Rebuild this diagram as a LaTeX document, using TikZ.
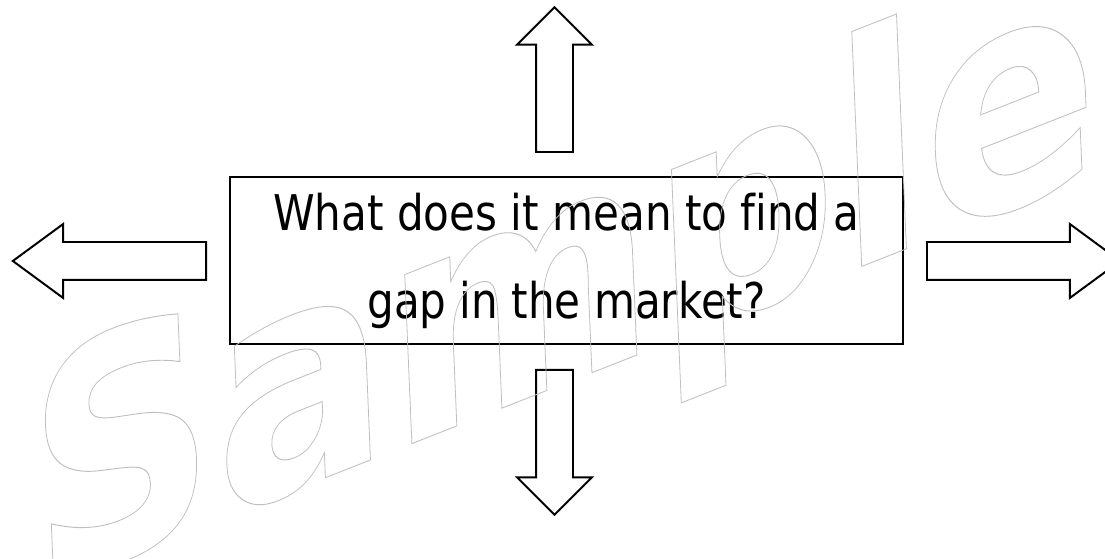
\documentclass[tikz,border=0pt]{standalone}
\usepackage{fontspec}
\usetikzlibrary{shapes.arrows}
\newfontfamily\qfont{DejaVu Sans}[FakeStretch=0.855, Ligatures=NoCommon]
\newfontfamily\wmfont{DejaVu Sans}[FakeStretch=0.94]
\newcommand{\outlinetext}[1]{\special{pdf:literal direct 1 Tr 0.6 w}#1\special{pdf:literal direct 0 Tr}}

\begin{document}
\begin{tikzpicture}[
  qbox/.style={draw, line width=1.4pt, minimum width=16.825cm, minimum height=4.175cm, align=center, inner sep=0pt, font=\qfont\fontsize{35}{62.6}\selectfont},
  blockarrow/.style={single arrow, draw, line width=1.4pt, inner xsep=0pt, anchor=tail},
  vert/.style={blockarrow, minimum height=3.62cm, inner ysep=0.4375cm, single arrow head extend=0.475cm},
  horiz/.style={blockarrow, minimum height=4.83cm, inner ysep=0.45cm, single arrow head extend=0.45cm, single arrow tip angle=72.6},
  stamp/.style={text=black!25, font=\wmfont\bfseries\fontsize{208}{208}\selectfont, inner sep=0pt}]
  \useasboundingbox (0,0) rectangle (27.625,13.975);
  % question in the middle
  \node[qbox] (q) at (14.1625,7.4625) {What does it mean to find a\\gap in the market?};
  % four ways out
  \node[vert, rotate=90]   (up)    at (13.8625,10.15) {};
  \node[vert, rotate=-90]  (down)  at (13.8625,4.75) {};
  \node[horiz, rotate=180] (left)  at (5.175,7.45) {};
  \node[horiz]             (right) at (23.15,7.45) {};
  % watermark
  \begin{scope}[shift={(14.1,6.55)}, rotate=21.5, xslant=0.346, transform shape]
    \node[stamp] (wm) at (0,0) {\outlinetext{Sample}};
  \end{scope}
\end{tikzpicture}
\end{document}
